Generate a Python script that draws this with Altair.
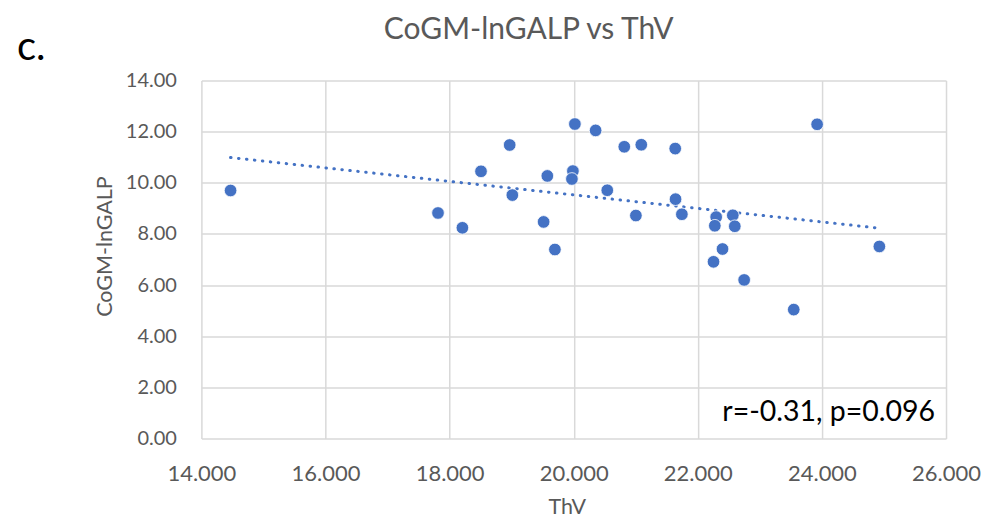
import altair as alt
import pandas as pd

thv = [14.470, 17.813, 18.206, 18.506, 18.968, 19.011, 19.515, 19.575, 19.697,
       19.987, 19.971, 20.019, 20.353, 20.815, 21.089, 21.636, 20.541, 21.002,
       21.641, 21.743, 22.296, 22.274, 22.564, 22.596, 22.398, 22.253, 22.747,
       23.546, 23.923, 24.926]
cogm = [9.70, 8.82, 8.24, 10.45, 11.48, 9.52, 8.47, 10.27, 7.39,
        10.46, 10.15, 12.30, 12.05, 11.41, 11.49, 11.34, 9.71, 8.72,
        9.36, 8.77, 8.66, 8.32, 8.73, 8.30, 7.41, 6.91, 6.20,
        5.04, 12.29, 7.51]

x_ticks = [14, 16, 18, 20, 22, 24, 26]
y_ticks = [0, 2, 4, 6, 8, 10, 12, 14]

title_text = ["CoGM-lnGALP vs ThV"]
panel_text = ["c."]
stats_text = ["r=-0.31, p=0.096"]

df = pd.DataFrame({"ThV": thv, "CoGM": cogm})

FONT = "Lato"
BLUE = "#4472C4"
GRAY = "#595959"

x_enc = alt.X("ThV:Q", scale=alt.Scale(domain=[14, 26], nice=False, zero=False),
              axis=alt.Axis(values=x_ticks, format=".3f", title="ThV",
                            labelFontSize=22, labelPadding=25, labelFlush=False,
                            titleX=365.5, titleY=69, titleBaseline="middle"))
y_enc = alt.Y("CoGM:Q", scale=alt.Scale(domain=[0, 14], nice=False),
              axis=alt.Axis(values=y_ticks, format=".2f", title="CoGM-lnGALP",
                            labelFontSize=20, labelPadding=25,
                            titleX=-95.5, titleY=165.5, titleBaseline="middle"))

base = alt.Chart(df)

points = base.mark_circle(size=160, opacity=1, color=BLUE, stroke="white",
                          strokeWidth=0.8).encode(x=x_enc, y=y_enc)

trend = base.transform_regression("ThV", "CoGM").mark_line(
    color=BLUE, strokeWidth=3, strokeDash=[0.5, 7.5], strokeCap="round"
).encode(x="ThV:Q", y="CoGM:Q")

title = alt.Chart(pd.DataFrame({"t": title_text})).mark_text(
    fontSize=30, font=FONT, color=GRAY, align="center", baseline="alphabetic"
).encode(text="t:N", x=alt.value(327.5), y=alt.value(-42.0))

label_c = alt.Chart(pd.DataFrame({"t": panel_text})).mark_text(
    fontSize=40, font=FONT, color="black", align="left", baseline="alphabetic"
).encode(text="t:N", x=alt.value(-184.5), y=alt.value(-20.5))

annot = alt.Chart(pd.DataFrame({"t": stats_text})).mark_text(
    fontSize=28.5, font=FONT, color="black", align="right", baseline="alphabetic"
).encode(text="t:N", x=alt.value(734), y=alt.value(341))

chart = alt.layer(trend, points, title, label_c, annot).properties(
    width=745, height=358,
    autosize=alt.AutoSizeParams(type="none"),
    padding={"left": 193.5, "top": 72.5, "right": 35, "bottom": 82},
).configure_view(stroke=None).configure_axis(
    grid=True, gridColor="#d9d9d9", gridWidth=1.5,
    domain=False, ticks=False,
    labelFont=FONT, labelColor=GRAY,
    titleFont=FONT, titleFontSize=21.5, titleColor=GRAY, titleFontWeight="normal",
)

chart.save("out.html", embed_options={"renderer": "svg", "actions": False})
